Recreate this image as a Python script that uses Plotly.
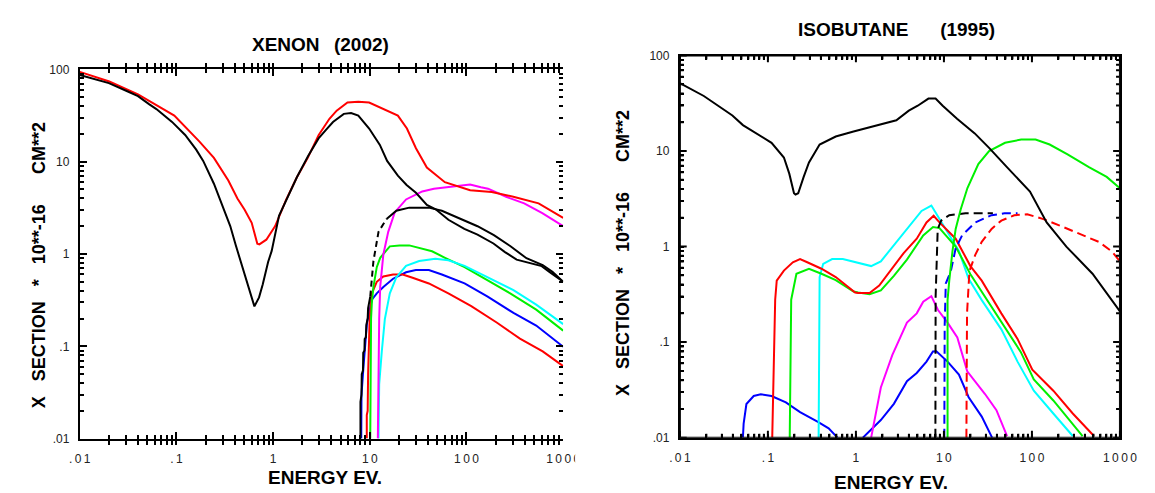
import plotly.graph_objects as go

# ---------------- XENON (2002) ----------------
xe_black_E = [0.01, 0.02, 0.031, 0.04, 0.052, 0.062, 0.09, 0.123, 0.16, 0.189, 0.244, 0.303, 0.36, 0.41,
              0.507, 0.577, 0.64, 0.715, 0.78, 0.887, 0.966, 1.15, 1.4, 1.76, 2.3, 2.95, 3.5, 4.16, 5.38,
              6.4, 7.6, 9.84, 12.7, 15.1, 19.5, 24, 30, 38.9, 48, 65, 95, 130, 190, 250, 330, 450, 600,
              720, 1000]
xe_black_S = [87, 71, 58, 51.4, 42, 37.2, 27, 19.5, 13.5, 10.2, 5.77, 3.27, 2.01, 1.25,
              0.594, 0.398, 0.271, 0.339, 0.467, 0.82, 1.08, 2.6, 4.0, 6.78, 11.5, 17.9, 22, 26.9, 33,
              33.7, 31.6, 22.9, 15.2, 10.2, 7.06, 5.6, 4.6, 3.4, 3.05, 2.35, 1.87, 1.62, 1.3, 1.05, 0.87,
              0.8, 0.74, 0.64, 0.5]

xe_red_E = [0.01, 0.0202, 0.04, 0.095, 0.173, 0.244, 0.344, 0.427, 0.507, 0.60, 0.686, 0.72, 0.85, 1.05,
            1.36, 1.76, 2.28, 2.95, 3.82, 4.54, 5.87, 7.6, 9.84, 12.7, 19.5, 24.2, 30, 38.9, 59.7, 109,
            182, 305, 557, 1000]
xe_red_S = [94, 74, 53.6, 31.6, 16.5, 11, 6.25, 4.0, 3.01, 2.18, 1.29, 1.27, 1.43, 2.01,
            3.85, 6.78, 11, 19.4, 29.2, 35.7, 43.8, 44.5, 43.8, 38.7, 31.6, 22.9, 14, 8.65, 6.0, 4.9,
            4.7, 4.17, 3.54, 2.46]

xe_magenta_E = [12.1, 12.2, 12.5, 12.8, 13.8, 15.5, 18.1, 23.7, 30, 34.9, 46, 71, 109, 141, 167, 257,
                395, 608, 1000]
xe_magenta_S = [0.01, 0.05, 0.2, 0.44, 0.99, 1.74, 2.82, 3.9, 4.4, 4.76, 5.1, 5.4, 5.67, 5.3, 5.1, 4.17,
                3.54, 2.78, 2.01]

xe_ion_a_E = [8.0, 8.0, 8.2, 8.25, 8.5, 8.55, 8.8, 8.85, 9.1, 9.2, 9.5, 9.6, 10.1]
xe_ion_a_S = [0.01, 0.025, 0.03, 0.05, 0.055, 0.085, 0.09, 0.12, 0.125, 0.17, 0.2, 0.26, 0.346]
xe_ion_b_E = [10.1, 10.9, 12.3, 14.9]
xe_ion_b_S = [0.346, 0.84, 1.74, 2.4]
xe_ion_c_E = [14.9, 18.8, 25.6, 40.8, 55.6, 81.8, 130, 192, 283, 417, 614, 774, 1000]
xe_ion_c_S = [2.4, 2.94, 3.18, 3.18, 2.94, 2.45, 2.0, 1.6, 1.22, 0.9, 0.76, 0.64, 0.5]

xe_green_E = [10.1, 10.15, 10.3, 10.5, 10.9, 11.8, 12.8, 16.1, 20.3, 25.6, 32.4, 44, 60, 95.5, 164, 283,
              526, 1000]
xe_green_S = [0.01, 0.088, 0.2, 0.3, 0.44, 0.72, 0.91, 1.21, 1.24, 1.24, 1.16, 1.07, 0.91, 0.72, 0.52,
              0.375, 0.25, 0.148]

xe_red2_E = [9.3, 9.3, 9.5, 9.6, 9.96, 10.5, 11.8, 13.8, 17.4, 21.9, 27.7, 40.8, 64.9, 112, 207, 357,
             614, 1000]
xe_red2_S = [0.01, 0.018, 0.02, 0.05, 0.197, 0.375, 0.5, 0.57, 0.6, 0.6, 0.553, 0.48, 0.375, 0.272, 0.18,
             0.121, 0.088, 0.061]

xe_cyan_E = [12.3, 12.5, 13.3, 14.3, 16.1, 18.8, 23.7, 32.4, 47.6, 64.9, 95.5, 164, 306, 526, 1000]
xe_cyan_S = [0.01, 0.039, 0.088, 0.197, 0.375, 0.56, 0.745, 0.84, 0.89, 0.855, 0.745, 0.56, 0.407, 0.283,
             0.174]

xe_blue_E = [8.15, 8.2, 8.6, 9.0, 9.35, 10.5, 11.8, 13.8, 17.4, 23.7, 29.9, 40.8, 55.6, 95.5, 164, 306,
             526, 1000]
xe_blue_S = [0.01, 0.03, 0.06, 0.12, 0.18, 0.32, 0.375, 0.44, 0.54, 0.634, 0.67, 0.67, 0.6, 0.48, 0.347,
             0.23, 0.168, 0.099]

# ---------------- ISOBUTANE (1995) ----------------
ib_black_E = [0.01, 0.0187, 0.0395, 0.052, 0.11, 0.152, 0.175, 0.198, 0.206, 0.221, 0.255, 0.293, 0.387,
              0.59, 0.94, 1.5, 2.88, 3.99, 5.04, 6.67, 8.04, 9.68, 14.1, 22.4, 32.6, 52, 95, 147, 246,
              488, 1000]
ib_black_S = [51.5, 37.7, 23.6, 18.7, 12.2, 8.55, 5.8, 3.62, 3.5, 3.62, 5.36, 7.6, 11.7,
              14.2, 16, 17.9, 21, 26.5, 29.8, 35.4, 35.4, 29.8, 21.8, 15.3, 10.8, 6.78, 3.77, 1.79, 1.0,
              0.52, 0.21]

ib_green_big_E = [11.0, 11.0, 11.5, 12.5, 13.6, 15.5, 18.5, 24.6, 32.6, 49.5, 75.5, 110, 159, 254, 444,
                  707, 1000]
ib_green_big_S = [0.01, 0.275, 0.44, 0.89, 1.53, 2.45, 4.1, 7.3, 10, 12.2, 13.2, 13.2, 11.7, 9.25, 6.78,
                  5.36, 4.07]

ib_black_dash_E = [8.0, 8.05, 8.5, 9.3, 11.5, 17.6, 36]
ib_black_dash_S = [0.01, 0.3, 1.53, 1.87, 2.13, 2.23, 2.23]

ib_blue_dash_E = [10.1, 10.2, 10.5, 12, 13.6, 16.1, 22.7, 34.8, 48.8, 68.6]
ib_blue_dash_S = [0.01, 0.15, 0.41, 0.556, 0.96, 1.31, 1.79, 2.13, 2.23, 2.23]

ib_red_dash_E = [18.0, 18.3, 19.5, 22.7, 26.9, 34.8, 44.9, 63, 88.5, 135, 207, 345, 575, 809, 1000]
ib_red_dash_S = [0.01, 0.2, 0.556, 0.82, 1.12, 1.53, 1.87, 2.13, 2.18, 1.94, 1.66, 1.36, 1.12, 0.89, 0.70]

ib_cyan_E = [0.377, 0.38, 0.387, 0.425, 0.537, 0.71, 1.03, 1.49, 1.92, 2.7, 3.8, 5.57, 7.2, 8.9, 12.5,
             14.8, 16.1, 19.1, 26.9, 44.9, 68.6, 105, 175, 291]
ib_cyan_S = [0.01, 0.1, 0.48, 0.66, 0.74, 0.74, 0.685, 0.625, 0.70, 1.04, 1.53, 2.36, 2.69, 1.94, 1.15,
             0.9, 0.72, 0.46, 0.275, 0.136, 0.0625, 0.031, 0.0179, 0.0104]

ib_red_E = [0.112, 0.118, 0.121, 0.126, 0.152, 0.192, 0.232, 0.28, 0.406, 0.59, 0.78, 0.98, 1.06, 1.43,
            1.84, 2.48, 3.49, 4.91, 6.34, 7.64, 8.9, 13.6, 20, 26.9, 44.9, 68.6, 101, 175, 291, 507]
ib_red_S = [0.01, 0.1, 0.278, 0.44, 0.56, 0.685, 0.74, 0.685, 0.586, 0.48, 0.395, 0.33, 0.327, 0.327,
            0.39, 0.556, 0.855, 1.21, 1.79, 2.1, 1.79, 1.21, 0.625, 0.44, 0.2, 0.108, 0.0514, 0.031,
            0.0179, 0.0104]

ib_green_E = [0.177, 0.18, 0.184, 0.211, 0.293, 0.406, 0.59, 0.94, 1.06, 1.43, 1.92, 2.7, 3.8, 5.82,
              7.52, 8.9, 13.6, 20, 29.3, 48.8, 74.6, 105, 175, 376]
ib_green_S = [0.01, 0.1, 0.278, 0.52, 0.586, 0.52, 0.445, 0.338, 0.33, 0.317, 0.348, 0.494, 0.73, 1.31,
              1.6, 1.56, 1.0, 0.514, 0.298, 0.148, 0.079, 0.0406, 0.0245, 0.0104]

ib_magenta_E = [1.49, 1.92, 2.59, 3.8, 4.91, 5.82, 7.2, 8.53, 11, 14.2, 18.4, 29.3, 39.5, 52.2]
ib_magenta_S = [0.01, 0.0335, 0.073, 0.16, 0.2, 0.265, 0.303, 0.218, 0.16, 0.112, 0.0494, 0.0286,
                0.0194, 0.0104]

ib_blue1_E = [0.052, 0.053, 0.057, 0.069, 0.083, 0.11, 0.16, 0.232, 0.37, 0.49, 0.618]
ib_blue1_S = [0.01, 0.014, 0.0225, 0.0273, 0.0284, 0.0273, 0.0234, 0.0185, 0.0146, 0.0125, 0.01]
ib_blue2_E = [1.2, 1.92, 2.7, 3.8, 4.91, 6.34, 7.5, 8.2, 11, 14.8, 19.1, 26.9, 35.3]
ib_blue2_S = [0.01, 0.0153, 0.0226, 0.039, 0.0475, 0.0625, 0.08, 0.0802, 0.0625, 0.0457, 0.0265,
              0.0166, 0.01]

# ---------------- axis labels / texts ----------------
x_decades = [0.01, 0.1, 1, 10, 100, 1000]
x_decade_text = [".\u20090\u20091", ".\u20091", "1", "1\u20090", "1\u20090\u20090", "1\u20090\u20090\u20090"]
y_decades = [0.01, 0.1, 1, 10, 100]
y_decade_text = [".01", ".1", "1", "10", "100"]

NB = "\u00a0"
titles = ["XENON" + NB * 2 + "\u2009(2002)", "ISOBUTANE" + NB * 6 + "(1995)"]
x_title = "ENERGY EV."
y_title = "X" + NB * 3 + "SECTION" + NB * 3 + "*" + NB * 3 + "10**-16" + NB * 6 + "CM**2"

RED, GREEN, BLUE, CYAN, MAG, BLK = "#ff0000", "#00f000", "#0000ff", "#00ffff", "#ff00ff", "#000000"

fig = go.Figure()


def add(E, S, color, xa, ya, dash="solid", width=2):
    fig.add_trace(go.Scatter(x=E, y=S, mode="lines", xaxis=xa, yaxis=ya,
                             line=dict(color=color, width=width, dash=dash),
                             showlegend=False, hoverinfo="skip"))


# Xenon panel
add(xe_blue_E, xe_blue_S, BLUE, "x", "y")
add(xe_red2_E, xe_red2_S, RED, "x", "y")
add(xe_green_E, xe_green_S, GREEN, "x", "y")
add(xe_cyan_E, xe_cyan_S, CYAN, "x", "y")
add(xe_magenta_E, xe_magenta_S, MAG, "x", "y")
add(xe_ion_a_E, xe_ion_a_S, BLK, "x", "y")
add(xe_ion_b_E, xe_ion_b_S, BLK, "x", "y", dash="6px,4px")
add(xe_ion_c_E, xe_ion_c_S, BLK, "x", "y")
add(xe_red_E, xe_red_S, RED, "x", "y")
add(xe_black_E, xe_black_S, BLK, "x", "y")

# Isobutane panel
add(ib_blue1_E, ib_blue1_S, BLUE, "x2", "y2")
add(ib_blue2_E, ib_blue2_S, BLUE, "x2", "y2")
add(ib_magenta_E, ib_magenta_S, MAG, "x2", "y2")
add(ib_cyan_E, ib_cyan_S, CYAN, "x2", "y2")
add(ib_green_E, ib_green_S, GREEN, "x2", "y2")
add(ib_red_E, ib_red_S, RED, "x2", "y2")
add(ib_black_dash_E, ib_black_dash_S, BLK, "x2", "y2", dash="9px,5px")
add(ib_blue_dash_E, ib_blue_dash_S, BLUE, "x2", "y2", dash="9px,5px")
add(ib_red_dash_E, ib_red_dash_S, RED, "x2", "y2", dash="9px,5px")
add(ib_green_big_E, ib_green_big_S, GREEN, "x2", "y2")
add(ib_black_E, ib_black_S, BLK, "x2", "y2")

# empty helper traces so that the tick-only overlay axes of the left panel get drawn
for xa, ya in [("x3", "y"), ("x", "y3"), ("x", "y5")]:
    fig.add_trace(go.Scatter(x=[None], y=[None], mode="lines", xaxis=xa, yaxis=ya,
                             showlegend=False, hoverinfo="skip"))

W, H = 1155, 493
L_px = dict(x0=62.3, x1=557.7, y0=56, y1=436)
R_px = dict(x0=677.3, x1=1128.3, y0=41.7, y1=435)

# right panel tick marks: continuous "comb" lines running along each frame edge
MAJ, MIN = 7, 4


def comb_traces(xa, ya, p):
    pxd = (p["x1"] - p["x0"]) / 5.0
    pyd = (p["y1"] - p["y0"]) / 4.0
    xt = [(m * 10.0 ** k, m == 1) for k in range(-2, 3) for m in range(1, 10)] + [(1000.0, True)]
    yt = [(m * 10.0 ** k, m == 1) for k in range(-2, 2) for m in range(1, 10)] + [(100.0, True)]
    # bottom and top
    for base, sgn in ((0.01, 1), (100.0, -1)):
        cx, cy = [], []
        for v, major in xt:
            f = 10 ** ((MAJ if major else MIN) / pyd)
            cx += [v, v, v]
            cy += [base, base * f ** sgn, base]
        fig.add_trace(go.Scatter(x=cx, y=cy, mode="lines", xaxis=xa, yaxis=ya,
                                 line=dict(color="black", width=2), showlegend=False,
                                 hoverinfo="skip"))
    # left and right
    for base, sgn in ((0.01, 1), (1000.0, -1)):
        cx, cy = [], []
        for v, major in yt:
            f = 10 ** ((MAJ if major else MIN) / pxd)
            cx += [base, base * f ** sgn, base]
            cy += [v, v, v]
        fig.add_trace(go.Scatter(x=cx, y=cy, mode="lines", xaxis=xa, yaxis=ya,
                                 line=dict(color="black", width=2), showlegend=False,
                                 hoverinfo="skip"))


comb_traces("x2", "y2", R_px)


def all_ticks(lo, hi, dtext):
    vals, txt = [], []
    for k in range(lo, hi):
        for m in range(1, 10):
            vals.append(m * 10.0 ** k)
            txt.append(dtext[k - lo] if m == 1 else "")
    vals.append(10.0 ** hi)
    txt.append(dtext[-1])
    return vals, txt


x_all, x_all_txt = all_ticks(-2, 3, x_decade_text)
y_all, y_all_txt = all_ticks(-2, 2, y_decade_text)

tickfont = dict(family="Liberation Sans, Arial, sans-serif", size=12, color="#222")
common = dict(type="log", showgrid=False, zeroline=False, ticks="inside", tickcolor="black",
              tickwidth=2)


def main_x(p, anchor):
    return dict(common, range=[-2, 3], domain=[p["x0"] / W, p["x1"] / W], anchor=anchor,
                tickmode="array", tickvals=x_all, ticktext=x_all_txt, tickfont=tickfont, ticklen=4,
                showline=True, linewidth=2, linecolor="black", mirror="allticks",
                ticklabelstandoff=8)


def main_y(p, anchor, mirror):
    return dict(common, range=[-2, 2], domain=[1 - p["y1"] / H, 1 - p["y0"] / H], anchor=anchor,
                tickmode="array", tickvals=y_all, ticktext=y_all_txt, tickfont=tickfont, ticklen=4,
                showline=True, linewidth=2, linecolor="black", mirror=mirror,
                ticklabelstandoff=6)


def over_x(over, anchor):
    return dict(common, range=[-2, 3], overlaying=over, anchor=anchor, side="bottom",
                tickmode="array", tickvals=x_decades, ticklen=7, showticklabels=False,
                showline=False, mirror="allticks")


def over_y(over, anchor, side, mirror, vals, ln):
    return dict(common, range=[-2, 2], overlaying=over, anchor=anchor, side=side,
                tickmode="array", tickvals=vals, ticklen=ln, showticklabels=False,
                showline=False, mirror=mirror)


fig.update_layout(
    width=W, height=H,
    margin=dict(l=0, r=0, t=0, b=0),
    paper_bgcolor="white", plot_bgcolor="white",
    xaxis=main_x(L_px, "y"),
    yaxis=main_y(L_px, "x", False),
    xaxis3=over_x("x", "y"),
    yaxis3=over_y("y", "x", "left", "allticks", y_decades, 7),
    yaxis5=over_y("y", "x", "right", False, y_all, 4),
    xaxis2=main_x(R_px, "y2"),
    yaxis2=main_y(R_px, "x2", True),
)

# the reference image crops the last tick label of the left panel
fig.add_shape(type="rect", xref="paper", yref="paper", x0=570 / W, x1=592 / W,
              y0=1 - 466 / H, y1=1 - 440 / H, fillcolor="white", line=dict(width=0), layer="above")


def ann(text, px, py, angle=0, size=18):
    fig.add_annotation(text="<b>" + text + "</b>", x=px / W, y=1 - py / H, xref="paper", yref="paper",
                       showarrow=False, xanchor="center", yanchor="middle", textangle=angle,
                       font=dict(family="Liberation Sans, Arial, sans-serif", size=size, color="black"))


ann(titles[0], 309, 30, size=19)
ann(titles[1], 899, 15, size=19)
ann(x_title, 314, 476, size=19)
ann(x_title, 894, 481, size=19)
ann(y_title, 20, 258, -90)
ann(y_title, 619, 245, -90)

fig.write_html("out.html")
